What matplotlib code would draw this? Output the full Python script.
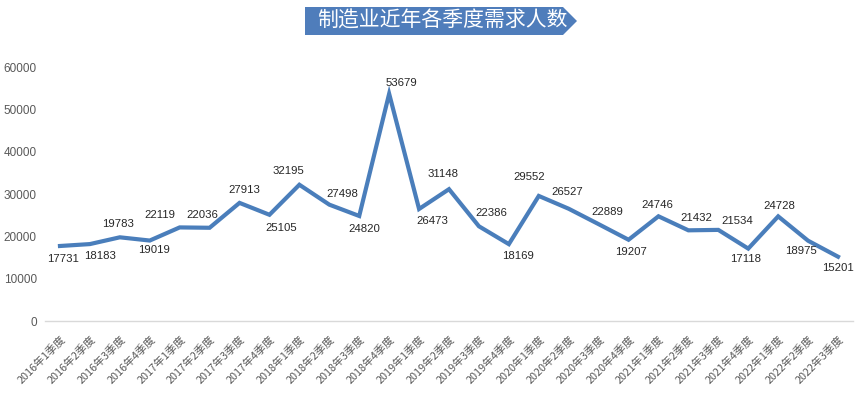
import numpy as np
import matplotlib
matplotlib.use("Agg")
from matplotlib import pyplot as plt
from matplotlib.patches import Polygon
from matplotlib.transforms import ScaledTranslation

plt.rcParams['font.family'] = ['Noto Sans CJK SC', 'DejaVu Sans']

# data
quarters = ["2016年1季度", "2016年2季度", "2016年3季度", "2016年4季度",
            "2017年1季度", "2017年2季度", "2017年3季度", "2017年4季度",
            "2018年1季度", "2018年2季度", "2018年3季度", "2018年4季度",
            "2019年1季度", "2019年2季度", "2019年3季度", "2019年4季度",
            "2020年1季度", "2020年2季度", "2020年3季度", "2020年4季度",
            "2021年1季度", "2021年2季度", "2021年3季度", "2021年4季度",
            "2022年1季度", "2022年2季度", "2022年3季度"]
demand = [17731, 18183, 19783, 19019, 22119, 22036, 27913, 25105, 32195,
          27498, 24820, 53679, 26473, 31148, 22386, 18169, 29552, 26527,
          22889, 19207, 24746, 21432, 21534, 17118, 24728, 18975, 15201]
yticks = [0, 10000, 20000, 30000, 40000, 50000, 60000]

# label offsets from the point, in pixels (dx right, dy down)
label_offsets = [(3, 13), (10, 12), (-2, -13), (4, 9), (-20, -12), (-7, -13),
                 (5, -13), (12, 13), (-11, -14), (13, -11), (5, 13), (12, -11),
                 (13, 12), (-6, -15), (12, -13), (9, 12), (-10, -19), (-1, -17),
                 (9, -12), (2, 12), (-1, -11), (8, -12), (19, -9), (-3, 10),
                 (1, -10), (-7, 10), (0, 11)]

line_color = "#4A7EBB"
text_grey = "#595959"

fig = plt.figure(figsize=(8.59, 3.93), dpi=100)
ax = fig.add_axes([0.0524, 0.183, 0.9406, 0.6465])

x = np.arange(len(demand))
ax.plot(x, demand, color=line_color, linewidth=3, solid_joinstyle="miter")

for xi, v, (dx, dy) in zip(x, demand, label_offsets):
    ax.annotate(str(v), (xi, v), xytext=(dx * 0.72, -dy * 0.72),
                textcoords="offset points", ha="center", va="center",
                fontsize=8.2, color="#262626",
                family=["Liberation Sans", "DejaVu Sans"])

ax.set_xlim(-0.5, len(demand) - 0.5)
ax.set_ylim(0, 60000)
ax.set_yticks(yticks)
ax.set_yticklabels([str(t) for t in yticks], fontsize=8.5, color=text_grey,
                   family=["Liberation Sans", "DejaVu Sans"])
ax.set_xticks(x)
ax.set_xticklabels(quarters, rotation=45, ha="right", va="top",
                   rotation_mode="anchor", fontsize=7.8, color=text_grey)
shift = ScaledTranslation(4 / 100, 0, fig.dpi_scale_trans)
for lab in ax.get_xticklabels():
    lab.set_transform(lab.get_transform() + shift)
ax.tick_params(axis="both", length=0)
ax.tick_params(axis="y", pad=6)
ax.tick_params(axis="x", pad=9)

for side in ["top", "right", "left"]:
    ax.spines[side].set_visible(False)
ax.spines["bottom"].set_color("#D9D9D9")
ax.spines["bottom"].set_linewidth(1)

# title banner (arrow shape)
W, H = 859.0, 393.0
pts = [(305, 7), (563, 7), (577, 21), (563, 35), (305, 35)]
banner = Polygon([(px / W, 1 - py / H) for px, py in pts], closed=True,
                 transform=fig.transFigure, facecolor="#4F7DBB", edgecolor="none")
fig.patches.append(banner)
fig.text(442 / W, 1 - 21 / H, "制造业近年各季度需求人数", ha="center", va="center",
         fontsize=15, color="white", fontweight="medium")

fig.savefig("out.png", dpi=100)
